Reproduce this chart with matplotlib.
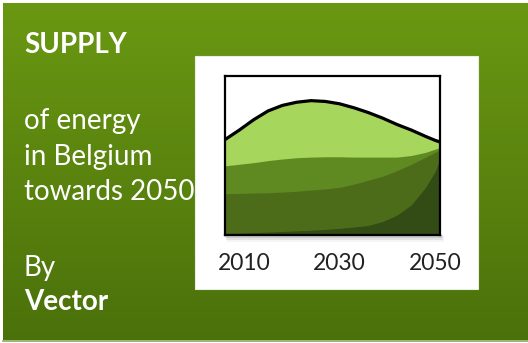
import numpy as np
import matplotlib.pyplot as plt
from matplotlib.patches import Rectangle
from matplotlib.colors import LinearSegmentedColormap

# supply layers, share of the box height
years = [2006, 2009, 2012, 2015, 2018, 2021, 2024, 2027, 2030, 2033, 2036, 2039, 2042, 2045, 2048, 2050, 2051]
total = [0.60, 0.66, 0.725, 0.78, 0.815, 0.835, 0.845, 0.84, 0.825, 0.80, 0.77, 0.735, 0.695, 0.66, 0.62, 0.595, 0.585]
layer_mid = [0.435, 0.445, 0.455, 0.468, 0.478, 0.486, 0.49, 0.492, 0.492, 0.49, 0.49, 0.49, 0.49, 0.50, 0.52, 0.54, 0.55]
layer_dark = [0.26, 0.262, 0.264, 0.266, 0.27, 0.275, 0.283, 0.29, 0.30, 0.32, 0.345, 0.37, 0.405, 0.445, 0.49, 0.52, 0.535]
layer_base = [0.01, 0.012, 0.015, 0.018, 0.022, 0.026, 0.03, 0.035, 0.042, 0.05, 0.06, 0.085, 0.125, 0.19, 0.30, 0.40, 0.48]
tick_years = [2010, 2030, 2050]

fig = plt.figure(figsize=(5.28, 3.43), dpi=100)
fig.patch.set_facecolor("white")

bg = fig.add_axes([0, 0, 1, 1])
bg.set_xlim(0, 528)
bg.set_ylim(343, 0)
bg.axis("off")

# green card with vertical gradient
cmap = LinearSegmentedColormap.from_list("card", ["#6a9812", "#4b710b"])
grad = np.linspace(0, 1, 256).reshape(-1, 1)
bg.imshow(grad, cmap=cmap, aspect="auto", extent=[3, 528, 340, 3], zorder=0)
bg.plot([3, 528], [340.5, 340.5], color="#8aa860", lw=1.2, zorder=1)

# white panel
bg.add_patch(Rectangle((195, 56), 283, 233, facecolor="white", edgecolor="#e8eee0", lw=0.8, zorder=2))
# soft shadow under the plot box
for i, a in enumerate([0.10, 0.07, 0.04]):
    bg.add_patch(Rectangle((225 + i, 235), 217, 3 + i * 2, facecolor="black", alpha=a, lw=0, zorder=3))

font = ["Lato", "DejaVu Sans"]
fs = 20
bg.text(24, 45, "SUPPLY", color="white", fontsize=fs, fontweight="bold", family=font, va="center", zorder=5)
bg.text(24, 121, "of energy", color="white", fontsize=fs, family=font, va="center", zorder=5)
bg.text(24, 157, "in Belgium", color="white", fontsize=fs, family=font, va="center", zorder=5)
bg.text(24, 192, "towards 2050", color="white", fontsize=fs, family=font, va="center", zorder=5)
bg.text(24, 268, "By", color="white", fontsize=fs, family=font, va="center", zorder=5)
bg.text(24, 302, "Vector", color="white", fontsize=fs, fontweight="bold", family=font, va="center", zorder=5)

ax = fig.add_axes([225 / 528, 1 - 235 / 343, 215 / 528, 159 / 343])
ax.set_xlim(2006, 2051)
ax.set_ylim(0, 1)
ax.set_facecolor("white")

ax.fill_between(years, 0, total, color="#a6d65c", lw=0)
ax.fill_between(years, 0, layer_mid, color="#5f8a22", lw=0)
ax.fill_between(years, 0, layer_dark, color="#4c6c1a", lw=0)
ax.fill_between(years, 0, layer_base, color="#334b14", lw=0)
ax.plot(years, total, color="black", lw=2.3, solid_capstyle="round")

for s in ax.spines.values():
    s.set_linewidth(1.6)
    s.set_color("black")
ax.set_yticks([])
ax.set_xticks(tick_years)
ax.set_xticklabels([str(y) for y in tick_years], family=font, fontsize=16.5, color="#222222")
ax.tick_params(axis="x", length=0, pad=13)

fig.savefig("out.png", dpi=100)
